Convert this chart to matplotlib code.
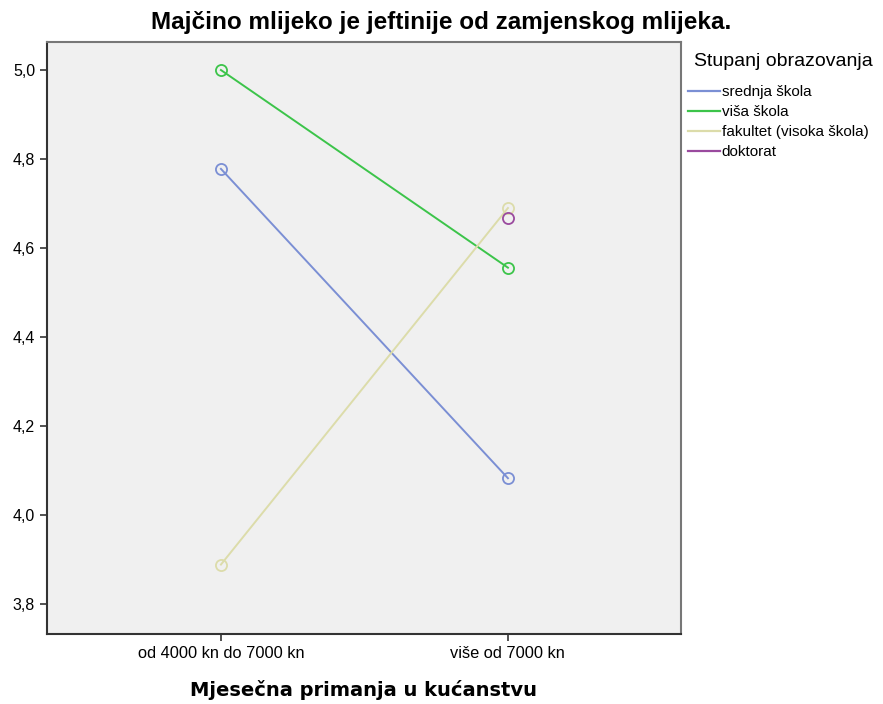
import numpy as np
import matplotlib.pyplot as plt
from matplotlib.lines import Line2D
from matplotlib.ticker import FuncFormatter

plt.rcParams['font.family'] = ['Liberation Sans', 'DejaVu Sans']

categories = ['od 4000 kn do 7000 kn', 'više od 7000 kn']
groups = ['srednja škola', 'viša škola', 'fakultet (visoka škola)', 'doktorat']
srednja = [4.778, 4.083]
visa = [5.0, 4.556]
fakultet = [3.889, 4.690]
doktorat = [np.nan, 4.667]
colors = ['#7b8fd4', '#3cc44a', '#dcdcaa', '#9a4a9e']

fig = plt.figure(figsize=(8.83, 7.04), dpi=100)
ax = fig.add_axes([47/883, 1-634/704, (681-47)/883, (634-42)/704])
ax.set_facecolor('#f0f0f0')

x = np.arange(len(categories))
for vals, c in zip([srednja, visa, fakultet, doktorat], colors):
    ax.plot(x, vals, color=c, lw=1.4, marker='o', ms=8, mfc='none', mec=c, mew=1.3)

ax.set_xlim(-0.606, 1.603)
ax.set_ylim(3.733, 5.063)
ax.set_xticks(x)
ax.set_xticklabels(categories, fontsize=11.8)
ax.set_yticks([3.8, 4.0, 4.2, 4.4, 4.6, 4.8, 5.0])
ax.yaxis.set_major_formatter(FuncFormatter(lambda v, p: f'{v:.1f}'.replace('.', ',')))
ax.tick_params(axis='y', labelsize=11.5)
ax.tick_params(direction='out', length=5, width=1.2, color='#333333')
for s in ['left', 'bottom']:
    ax.spines[s].set_color('#333333')
    ax.spines[s].set_linewidth(1.5)
for s in ['top', 'right']:
    ax.spines[s].set_color('#777777')
    ax.spines[s].set_linewidth(1.5)

ax.set_xlabel('Mjesečna primanja u kućanstvu', fontsize=14, fontweight='bold',
              family='DejaVu Sans', labelpad=14)
fig.text(0.5, 1-23/704, 'Majčino mlijeko je jeftinije od zamjenskog mlijeka.',
         ha='center', va='center', fontsize=17.5, fontweight='bold')

fig.text(694/883, 1-62/704, 'Stupanj obrazovanja', ha='left', va='center', fontsize=14)
handles = [Line2D([], [], color=c, lw=1.6) for c in colors]
leg = fig.legend(handles, groups, loc='upper left',
                 bbox_to_anchor=(688/883, 1-85/704), frameon=False, fontsize=11,
                 handlelength=2.1, handletextpad=0.1,
                 labelspacing=0.4, borderaxespad=0, borderpad=0.0)

fig.savefig('out.png', dpi=100)
